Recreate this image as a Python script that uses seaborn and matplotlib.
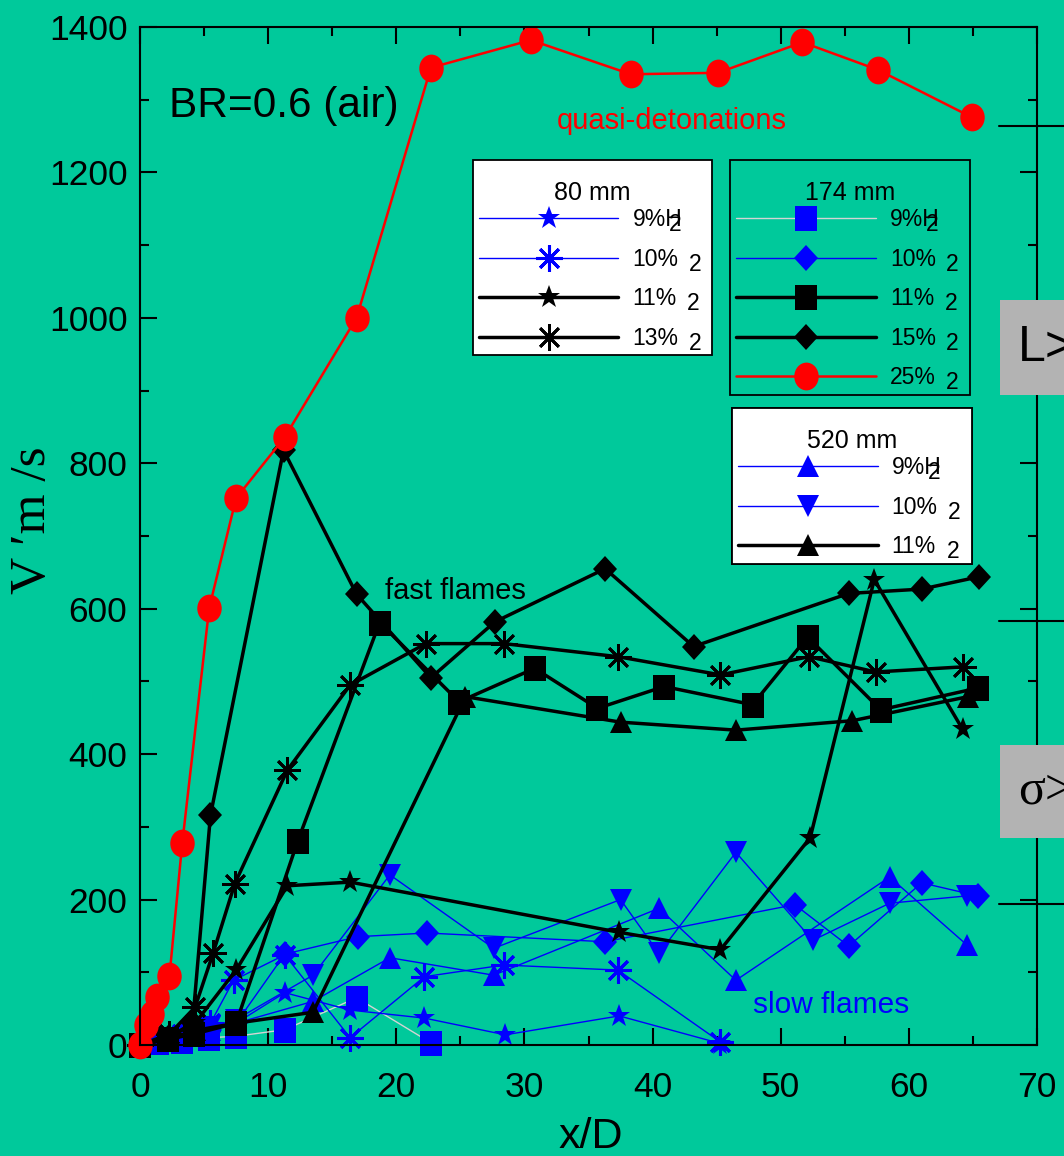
import matplotlib
matplotlib.use("Agg")
import matplotlib.pyplot as plt
import seaborn as sns
from matplotlib.markers import MarkerStyle
from matplotlib.transforms import Affine2D
from matplotlib.patches import Rectangle
from matplotlib.ticker import MultipleLocator

# ---- flame speed data: x/D and velocity (m/s) ----
# 80 mm tube
x_80_9 = [0, 1.3, 3.3, 5.5, 7.5, 11.3, 16.4, 22.2, 28.5, 37.4, 45.3]
v_80_9 = [0, 5, 12, 25, 30, 72, 48, 37, 14, 40, 2]
x_80_10 = [0, 1.3, 3.3, 5.5, 7.3, 11.3, 16.4, 22.2, 28.4, 37.3, 45.3]
v_80_10 = [0, 6, 15, 30, 89, 124, 10, 94, 110, 103, 4]
x_80_11 = [0, 2.3, 4.3, 7.5, 11.5, 16.4, 37.4, 45.3, 52.3, 57.3, 64.2]
v_80_11 = [0, 11, 30, 103, 219, 224, 155, 131, 285, 640, 434]
x_80_13 = [0, 2.3, 4.3, 5.7, 7.4, 11.5, 16.4, 22.3, 28.4, 37.3, 45.3, 52.2, 57.4, 64.2]
v_80_13 = [0, 15, 52, 126, 222, 378, 495, 552, 552, 534, 509, 534, 513, 520]

# 174 mm tube
x_174_9 = [0, 1.4, 3.3, 5.4, 7.5, 11.3, 16.9, 22.7]
v_174_9 = [0, 4, 6, 10, 12, 21, 65, 3]
x_174_10 = [0, 1.5, 3.3, 5.5, 7.5, 11.3, 17.0, 22.4, 36.3, 51.1, 55.3, 61.0, 65.4]
v_174_10 = [0, 5, 12, 20, 30, 125, 149, 154, 142, 193, 136, 223, 205]
x_174_11 = [0, 2.2, 4.2, 7.5, 12.3, 18.7, 24.9, 30.8, 35.7, 40.9, 47.8, 52.1, 57.8, 65.4]
v_174_11 = [0, 8, 15, 30, 280, 581, 472, 518, 463, 493, 468, 561, 461, 491]
x_174_15 = [0, 2.2, 4.1, 5.5, 11.2, 16.9, 22.7, 27.7, 36.3, 43.2, 55.3, 61.0, 65.5]
v_174_15 = [0, 10, 30, 316, 818, 620, 505, 582, 655, 548, 621, 627, 644]
x_174_25 = [0, 0.5, 0.9, 1.3, 2.3, 3.3, 5.4, 7.5, 11.3, 16.9, 22.7, 30.5, 38.3, 45.1, 51.7, 57.6, 64.9]
v_174_25 = [0, 27, 43, 66, 95, 278, 601, 752, 836, 1000, 1344, 1382, 1335, 1337, 1379, 1341, 1276]

# 520 mm tube
x_520_9 = [0, 1.5, 3.3, 5.5, 7.5, 13.5, 19.5, 27.6, 40.5, 46.5, 58.5, 64.5]
v_520_9 = [0, 5, 10, 20, 30, 60, 120, 96, 188, 89, 231, 138]
x_520_10 = [0, 1.5, 3.3, 5.5, 7.5, 13.5, 19.5, 27.6, 37.5, 40.5, 46.5, 52.5, 58.5, 64.5]
v_520_10 = [0, 4, 10, 25, 35, 96, 234, 133, 200, 126, 265, 144, 195, 205]
x_520_11 = [0, 2.2, 4.3, 7.5, 13.5, 25.4, 37.5, 46.5, 55.6, 64.6]
v_520_11 = [0, 8, 20, 30, 45, 479, 444, 433, 446, 479]

labels_80 = ["9%H", "10%", "11%", "13%"]
labels_174 = ["9%H", "10%", "11%", "15%", "25%"]
labels_520 = ["9%H", "10%", "11%"]

# ---- style ----
sns.set_theme(style="ticks")
plt.rcParams["font.family"] = ["Liberation Sans", "DejaVu Sans"]
for key in ["text.color", "axes.labelcolor", "xtick.color", "ytick.color", "axes.edgecolor"]:
    plt.rcParams[key] = "black"

BG = "#00c99b"
BLUE = "#0000ff"
GRAYLINE = "#d4d4d4"
RED = "#ff0000"

squeeze = Affine2D().scale(0.88, 1.0)
mk_circle = MarkerStyle("o", transform=squeeze)
mk_square = MarkerStyle("s", transform=squeeze)
mk_diamond = MarkerStyle("D", transform=squeeze)
mk_star = MarkerStyle("*")
mk_ast = MarkerStyle((8, 2, 0))
mk_up = MarkerStyle("^")
mk_down = MarkerStyle("v")

fig = plt.figure(figsize=(10.64, 11.56), dpi=100, facecolor=BG)
ax = fig.add_axes([140 / 1064, 1 - 1045 / 1156, 897 / 1064, 1018 / 1156])
ax.set_facecolor(BG)


def draw(x, v, line_color, lw, marker, ms, mcolor, mew=0.0):
    sns.lineplot(x=x, y=v, ax=ax, color=line_color, lw=lw, marker=marker,
                 markersize=ms, markerfacecolor=mcolor, markeredgecolor=mcolor,
                 markeredgewidth=mew, estimator=None, sort=False, clip_on=False)
    return ax.lines[-1]


# thin blue series first, then black, red on top
h174_9 = draw(x_174_9, v_174_9, GRAYLINE, 1.0, mk_square, 18, BLUE)
h174_10 = draw(x_174_10, v_174_10, BLUE, 1.0, mk_diamond, 13.5, BLUE)
h520_9 = draw(x_520_9, v_520_9, BLUE, 1.0, mk_up, 16, BLUE)
h520_10 = draw(x_520_10, v_520_10, BLUE, 1.0, mk_down, 16, BLUE)
h80_9 = draw(x_80_9, v_80_9, BLUE, 1.0, mk_star, 17, BLUE)
h80_10 = draw(x_80_10, v_80_10, BLUE, 1.0, mk_ast, 19, BLUE, mew=2.2)

h520_11 = draw(x_520_11, v_520_11, "black", 2.5, mk_up, 16, "black")
h174_11 = draw(x_174_11, v_174_11, "black", 2.5, mk_square, 18, "black")
h174_15 = draw(x_174_15, v_174_15, "black", 2.5, mk_diamond, 13.5, "black")
h80_11 = draw(x_80_11, v_80_11, "black", 2.5, mk_star, 17, "black")
h80_13 = draw(x_80_13, v_80_13, "black", 2.5, mk_ast, 19, "black", mew=2.0)

h174_25 = draw(x_174_25, v_174_25, RED, 1.8, mk_circle, 20, RED)

# ---- axes ----
ax.set_xlim(0, 70)
ax.set_ylim(0, 1400)
ax.xaxis.set_major_locator(MultipleLocator(10))
ax.xaxis.set_minor_locator(MultipleLocator(5))
ax.yaxis.set_major_locator(MultipleLocator(200))
ax.yaxis.set_minor_locator(MultipleLocator(100))
ax.tick_params(which="both", direction="in", top=True, right=True, width=1.5)
ax.tick_params(which="major", length=12, labelsize=25.5)
ax.tick_params(which="minor", length=6.5)
ax.tick_params(axis="x", which="major", pad=19)
ax.tick_params(axis="y", which="major", pad=9)
for sp in ax.spines.values():
    sp.set_linewidth(1.5)
    sp.set_color("black")

ax.set_xlabel("x/D", fontsize=31)
ax.xaxis.set_label_coords(0.502, -0.071)
ax.set_ylabel("V \u2032m /s", fontsize=37, family=["Liberation Serif", "DejaVu Serif"])
ax.yaxis.set_label_coords(-0.094, 0.516)

# ---- annotations ----
ax.text(2.3, 1292, "BR=0.6 (air)", fontsize=30.5, ha="left", va="center")
ax.text(32.5, 1271, "quasi-detonations", fontsize=21, color=RED, ha="left", va="center")
ax.text(19.1, 613, "fast flames", fontsize=21, ha="left", va="baseline")
ax.text(47.8, 44, "slow flames", fontsize=21.5, color=BLUE, ha="left", va="baseline")

# tick lines of the neighbouring frame on the right edge
for yv in [1264, 583, 194]:
    ax.axhline(yv, xmin=0.958, xmax=1.05, color="black", lw=1.5, clip_on=False)


# ---- legends ----
def make_legend(handles, labels, title, x0, ytop, w, face):
    # leading blank line (with tight line spacing) gives the title some headroom
    leg = ax.legend(handles, labels, title="\n" + title, loc="upper left",
                    bbox_to_anchor=(x0, ytop, w, 0), mode="expand",
                    borderaxespad=0, frameon=True, fancybox=False,
                    framealpha=1, facecolor=face, edgecolor="black",
                    fontsize=16.5, title_fontsize=18, handlelength=6.1,
                    handletextpad=0.62, labelspacing=0.725, borderpad=0.25,
                    numpoints=1)
    leg.get_title().set_linespacing(0.55)
    leg._legend_box.sep = 2.0
    leg.get_frame().set_linewidth(1.3)
    ax.add_artist(leg)
    for t in leg.get_texts():
        dx = -9.5 if t.get_text().endswith("H") else 7.5
        ax.annotate("2", xy=(1, 0), xycoords=t, xytext=(dx, -3.6),
                    textcoords="offset points", ha="left", va="bottom",
                    fontsize=16.5, zorder=10)
    return leg


make_legend([h80_9, h80_10, h80_11, h80_13], labels_80, "80 mm",
            0.3712, 0.8694, 0.2664, "white")
make_legend([h174_9, h174_10, h174_11, h174_15, h174_25], labels_174, "174 mm",
            0.6578, 0.8694, 0.2676, BG)
make_legend([h520_9, h520_10, h520_11], labels_520, "520 mm",
            0.6600, 0.6257, 0.2676, "white")

# ---- grey label boxes at the right edge ----
for (ytop, ybot, txt, fam) in [(300, 395, "L>", ["Liberation Sans", "DejaVu Sans"]),
                                (745, 838, "\u03c3>", ["Liberation Serif", "DejaVu Serif"])]:
    fig.add_artist(Rectangle((1000 / 1064, 1 - ybot / 1156), 0.1, (ybot - ytop) / 1156,
                             transform=fig.transFigure, facecolor="#b3b3b3",
                             edgecolor="none", zorder=3))
    fig.text(1018 / 1064, 1 - (ytop + ybot) / 2 / 1156, txt, fontsize=36,
             family=fam, ha="left", va="center", zorder=4)

fig.savefig("out.png", dpi=100, facecolor=BG)
